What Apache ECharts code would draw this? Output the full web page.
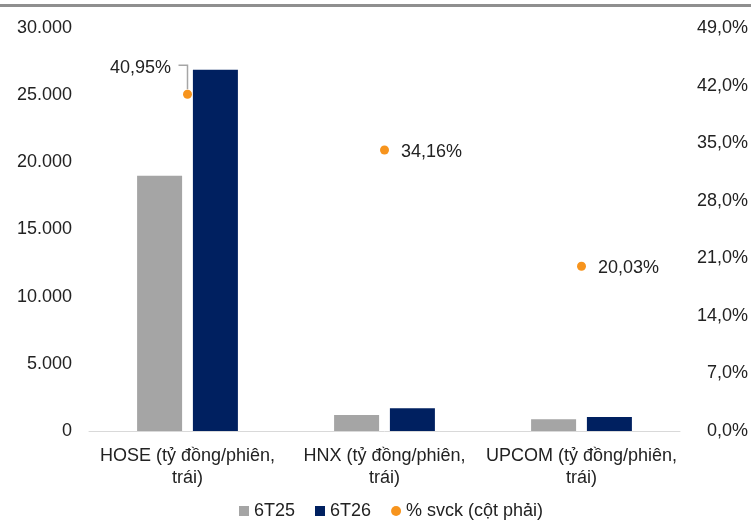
<!DOCTYPE html>
<html>
<head>
<meta charset="utf-8">
<script src="https://cdn.jsdelivr.net/npm/echarts@6/dist/echarts.min.js"></script>
<style>
html,body{margin:0;padding:0;background:#fff;}
#chart{width:751px;height:522px;}
</style>
</head>
<body>
<div id="chart"></div>
<script>
var categories = ['HOSE (tỷ đồng/phiên,\ntrái)', 'HNX (tỷ đồng/phiên,\ntrái)', 'UPCOM (tỷ đồng/phiên,\ntrái)'];
var seriesNames = ['6T25', '6T26', '% svck (cột phải)'];
var values6T25 = [19000, 1200, 870];
var values6T26 = [26900, 1690, 1040];
var pctChange = [40.95, 34.16, 20.03];
var leftTicks = {min: 0, max: 30000, interval: 5000};
var rightTicks = {min: 0, max: 49, interval: 7};

var FONT = "'Liberation Sans', Arial, sans-serif";
var TXT = '#222222';

function fmtThousand(v) {
  return String(v).replace(/\B(?=(\d{3})+(?!\d))/g, '.');
}
function fmtPct(v, d) {
  return v.toFixed(d).replace('.', ',') + '%';
}

var scatterData = pctChange.map(function (v, i) {
  var item = {value: v};
  if (i === 0) {
    item.label = {position: 'left', distance: 5, offset: [-7, -26], color: TXT};
  }
  return item;
});

var chart = echarts.init(document.getElementById('chart'), null, {renderer: 'canvas'});
chart.setOption({
  animation: false,
  backgroundColor: '#fff',
  textStyle: {fontFamily: FONT},
  graphic: [{
    type: 'rect', left: 0, top: 4, silent: true,
    shape: {width: 751, height: 3},
    style: {fill: '#8f8f8f'}
  }],
  grid: {left: 89, right: 71, top: 28, bottom: 91, containLabel: false},
  legend: {
    left: 234, top: 497,
    itemWidth: 10, itemHeight: 10, itemGap: 20,
    textStyle: {fontFamily: FONT, fontSize: 18, color: TXT},
    data: [
      {name: seriesNames[0], icon: 'rect'},
      {name: seriesNames[1], icon: 'rect'},
      {name: seriesNames[2], icon: 'circle'}
    ]
  },
  xAxis: {
    type: 'category',
    data: categories,
    axisLine: {show: true, lineStyle: {color: '#d9d9d9', width: 1}},
    axisTick: {show: false},
    axisLabel: {interval: 0, margin: 14, fontFamily: FONT, fontSize: 18, lineHeight: 22, color: TXT, align: 'center'}
  },
  yAxis: [{
    type: 'value',
    min: leftTicks.min, max: leftTicks.max, interval: leftTicks.interval,
    splitLine: {show: false},
    axisLine: {show: false}, axisTick: {show: false},
    axisLabel: {margin: 17, fontFamily: FONT, fontSize: 18, color: TXT, formatter: fmtThousand}
  }, {
    type: 'value',
    position: 'right',
    min: rightTicks.min, max: rightTicks.max, interval: rightTicks.interval,
    splitLine: {show: false},
    axisLine: {show: false}, axisTick: {show: false},
    axisLabel: {margin: 68, align: 'right', fontFamily: FONT, fontSize: 18, color: TXT,
      formatter: function (v) { return fmtPct(v, 1); }}
  }],
  series: [{
    name: seriesNames[0], type: 'bar', data: values6T25,
    barWidth: 45, barGap: '24%',
    itemStyle: {color: '#a5a5a5'}
  }, {
    name: seriesNames[1], type: 'bar', data: values6T26,
    barWidth: 45, barGap: '24%',
    itemStyle: {color: '#002060'}
  }, {
    name: seriesNames[2], type: 'scatter', yAxisIndex: 1,
    data: scatterData,
    symbol: 'circle', symbolSize: 9,
    itemStyle: {color: '#f7941d', opacity: 1},
    label: {
      show: true, position: 'right', distance: 12, offset: [0, 2],
      fontFamily: FONT, fontSize: 18, color: TXT, opacity: 1,
      formatter: function (p) { return fmtPct(p.value, 2); }
    },
    emphasis: {disabled: true},
    z: 5
  }, {
    name: 'leader', type: 'custom', yAxisIndex: 1,
    data: [[0, pctChange[0]]],
    silent: true,
    renderItem: function (params, api) {
      var p = api.coord([api.value(0), api.value(1)]);
      return {
        type: 'polyline',
        shape: {points: [[p[0], p[1] - 5], [p[0], p[1] - 29], [p[0] - 9, p[1] - 29]]},
        style: {stroke: '#a6a6a6', lineWidth: 1.5, fill: null}
      };
    },
    z: 4
  }]
});
</script>
</body>
</html>
